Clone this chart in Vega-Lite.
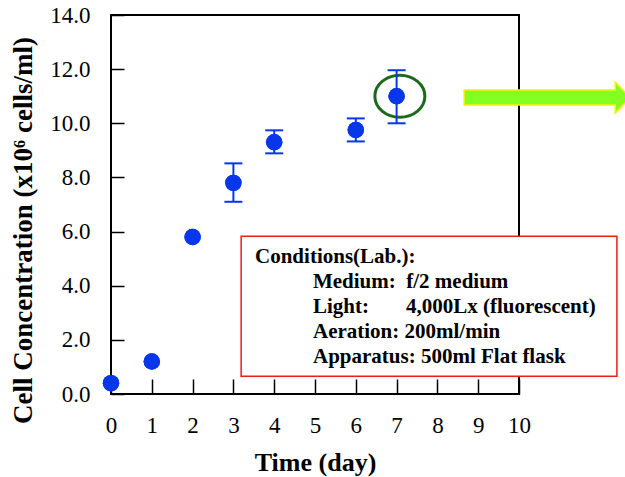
{
  "$schema": "https://vega.github.io/schema/vega-lite/v6.json",
  "width": 408,
  "height": 379,
  "autosize": "none",
  "padding": {"left": 111, "top": 15, "right": 106, "bottom": 83},
  "background": "white",
  "config": {
    "view": {"stroke": "black", "strokeWidth": 2},
    "font": "Liberation Serif",
    "axis": {
      "grid": false,
      "domain": false,
      "tickColor": "black",
      "tickWidth": 1.5,
      "labelFlush": false,
      "labelOverlap": false,
      "labelFont": "Liberation Serif",
      "labelFontSize": 23,
      "labelColor": "black",
      "titleFont": "Liberation Serif",
      "titleFontSize": 26,
      "titleFontWeight": "bold",
      "titleColor": "black"
    }
  },
  "datasets": {
    "points": [
      {"day": 0, "conc": 0.4},
      {"day": 1, "conc": 1.2},
      {"day": 2, "conc": 5.8},
      {"day": 3, "conc": 7.8},
      {"day": 4, "conc": 9.3},
      {"day": 6, "conc": 9.75},
      {"day": 7, "conc": 11.0}
    ],
    "errors": [
      {"day": 3, "lo": 7.1, "hi": 8.52},
      {"day": 4, "lo": 8.89, "hi": 9.74},
      {"day": 6, "lo": 9.33, "hi": 10.18},
      {"day": 7, "lo": 10.0, "hi": 11.96}
    ],
    "anchor": [{"note": "box"}]
  },
  "layer": [
    {
      "data": {"name": "points"},
      "mark": {"type": "point", "shape": "circle", "filled": true, "size": 270, "color": "#0836ea", "opacity": 1},
      "encoding": {
        "x": {
          "field": "day",
          "type": "quantitative",
          "scale": {"domain": [0, 10], "nice": false, "zero": false},
          "axis": {
            "title": "Time (day)",
            "values": [0, 1, 2, 3, 4, 5, 6, 7, 8, 9, 10],
            "format": "d",
            "offset": -15,
            "tickSize": 15,
            "labelPadding": 20,
            "titlePadding": 12
          }
        },
        "y": {
          "field": "conc",
          "type": "quantitative",
          "scale": {"domain": [0, 14], "nice": false},
          "axis": {
            "title": "Cell Concentration (x10⁶ cells/ml)",
            "values": [0, 2, 4, 6, 8, 10, 12, 14],
            "format": ".1f",
            "offset": -13,
            "tickSize": 13,
            "labelPadding": 21,
            "titlePadding": 12,
            "titleFontSize": 27,
            "titleY": 215
          }
        }
      }
    },
    {
      "data": {"name": "anchor"},
      "mark": {"type": "rect", "fill": "white", "stroke": "#ee1c1c", "strokeWidth": 1.5, "clip": false},
      "encoding": {
        "x": {"datum": 3.19, "type": "quantitative"},
        "x2": {"datum": 12.4},
        "y": {"datum": 5.83, "type": "quantitative"},
        "y2": {"datum": 0.66}
      }
    },
    {
      "data": {"name": "anchor"},
      "mark": {"type": "text", "text": "Conditions(Lab.):", "align": "left", "baseline": "alphabetic", "font": "Liberation Serif", "fontSize": 21, "fontWeight": "bold", "color": "black"},
      "encoding": {"x": {"datum": 3.53, "type": "quantitative"}, "y": {"datum": 4.83, "type": "quantitative"}}
    },
    {
      "data": {"name": "anchor"},
      "mark": {"type": "text", "text": "Medium:\u00a0 f/2 medium", "align": "left", "baseline": "alphabetic", "font": "Liberation Serif", "fontSize": 21, "fontWeight": "bold", "color": "black"},
      "encoding": {"x": {"datum": 4.95, "type": "quantitative"}, "y": {"datum": 3.91, "type": "quantitative"}}
    },
    {
      "data": {"name": "anchor"},
      "mark": {"type": "text", "text": "Light:", "align": "left", "baseline": "alphabetic", "font": "Liberation Serif", "fontSize": 21, "fontWeight": "bold", "color": "black"},
      "encoding": {"x": {"datum": 4.95, "type": "quantitative"}, "y": {"datum": 2.99, "type": "quantitative"}}
    },
    {
      "data": {"name": "anchor"},
      "mark": {"type": "text", "text": "4,000Lx (fluorescent)", "align": "left", "baseline": "alphabetic", "font": "Liberation Serif", "fontSize": 21, "fontWeight": "bold", "color": "black"},
      "encoding": {"x": {"datum": 7.23, "type": "quantitative"}, "y": {"datum": 2.99, "type": "quantitative"}}
    },
    {
      "data": {"name": "anchor"},
      "mark": {"type": "text", "text": "Aeration: 200ml/min", "align": "left", "baseline": "alphabetic", "font": "Liberation Serif", "fontSize": 21, "fontWeight": "bold", "color": "black"},
      "encoding": {"x": {"datum": 4.95, "type": "quantitative"}, "y": {"datum": 2.07, "type": "quantitative"}}
    },
    {
      "data": {"name": "anchor"},
      "mark": {"type": "text", "text": "Apparatus: 500ml Flat flask", "align": "left", "baseline": "alphabetic", "font": "Liberation Serif", "fontSize": 21, "fontWeight": "bold", "color": "black"},
      "encoding": {"x": {"datum": 4.95, "type": "quantitative"}, "y": {"datum": 1.14, "type": "quantitative"}}
    },
    {
      "data": {"name": "anchor"},
      "mark": {
        "type": "point",
        "shape": "M -1 -0.09 L 0.82 -0.09 L 0.82 -0.187 L 1 0 L 0.82 0.187 L 0.82 0.09 L -1 0.09 Z",
        "size": 27556,
        "filled": true,
        "fill": "#84ff22",
        "fillOpacity": 1,
        "stroke": "#f4f400",
        "strokeWidth": 1.5,
        "opacity": 1
      },
      "encoding": {"x": {"datum": 10.69, "type": "quantitative"}, "y": {"datum": 10.95, "type": "quantitative"}}
    },
    {
      "data": {"name": "anchor"},
      "mark": {
        "type": "point",
        "shape": "M -1 0 A 1 0.84 0 1 0 1 0 A 1 0.84 0 1 0 -1 0 Z",
        "size": 2500,
        "filled": false,
        "stroke": "#1b6a1b",
        "strokeWidth": 3,
        "opacity": 1
      },
      "encoding": {"x": {"datum": 7.08, "type": "quantitative"}, "y": {"datum": 11.0, "type": "quantitative"}}
    },
    {
      "data": {"name": "errors"},
      "mark": {"type": "rule", "color": "#0836ea", "strokeWidth": 2},
      "encoding": {"x": {"field": "day", "type": "quantitative"}, "y": {"field": "lo", "type": "quantitative"}, "y2": {"field": "hi"}}
    },
    {
      "data": {"name": "errors"},
      "mark": {"type": "tick", "orient": "horizontal", "color": "#0836ea", "size": 18, "thickness": 2, "opacity": 1},
      "encoding": {"x": {"field": "day", "type": "quantitative"}, "y": {"field": "lo", "type": "quantitative"}}
    },
    {
      "data": {"name": "errors"},
      "mark": {"type": "tick", "orient": "horizontal", "color": "#0836ea", "size": 18, "thickness": 2, "opacity": 1},
      "encoding": {"x": {"field": "day", "type": "quantitative"}, "y": {"field": "hi", "type": "quantitative"}}
    },
    {
      "data": {"name": "points"},
      "mark": {"type": "point", "shape": "circle", "filled": true, "size": 270, "color": "#0836ea", "opacity": 1},
      "encoding": {"x": {"field": "day", "type": "quantitative"}, "y": {"field": "conc", "type": "quantitative"}}
    }
  ]
}
